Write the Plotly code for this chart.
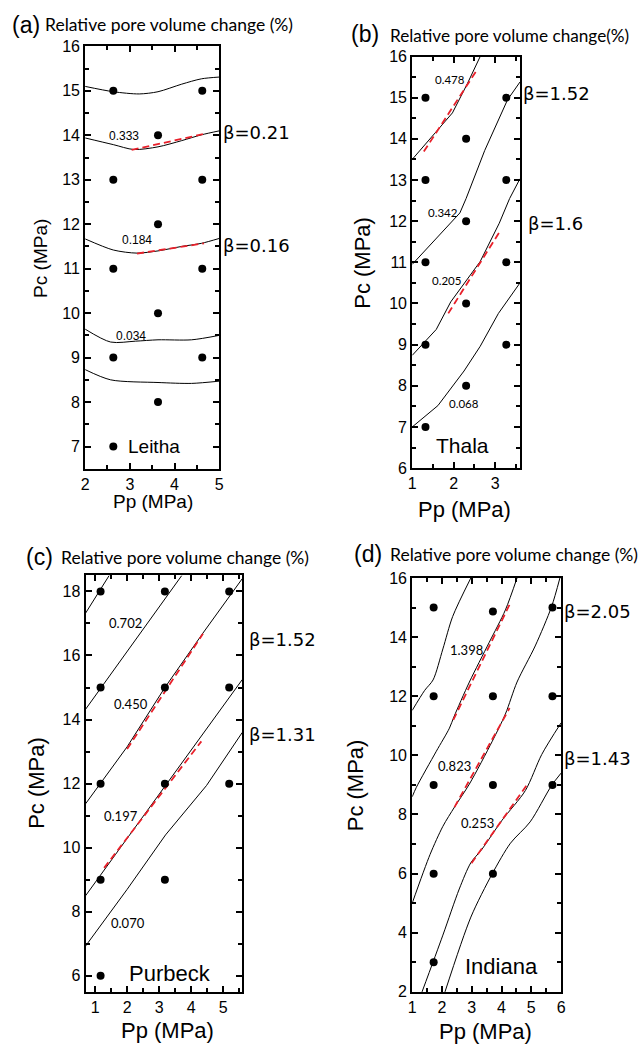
import plotly.graph_objects as go

# ---------------- Panel (a) Leitha ----------------
a_pp = [2.63, 4.62, 3.63, 2.63, 4.62, 3.63, 2.63, 4.62, 3.63, 2.63, 4.62, 3.63, 2.63]
a_pc = [15, 15, 14, 13, 13, 12, 11, 11, 10, 9, 9, 8, 7]
a_c1_x = [2, 2.63, 3.21, 3.63, 4.16, 4.6, 5]
a_c1_y = [15.10, 14.98, 14.93, 14.98, 15.15, 15.27, 15.31]
a_c2_x = [2, 2.63, 3.09, 3.63, 4.16, 4.6, 5]
a_c2_y = [13.94, 13.79, 13.68, 13.74, 13.88, 14.01, 14.10]
a_c3_x = [2, 2.63, 3.16, 3.63, 4.16, 4.6, 5]
a_c3_y = [11.67, 11.42, 11.35, 11.40, 11.50, 11.57, 11.68]
a_c4_x = [2, 2.57, 3.13, 3.63, 4.38, 5]
a_c4_y = [9.64, 9.35, 9.37, 9.40, 9.40, 9.50]
a_c5_x = [2, 2.57, 3.63, 4.38, 5]
a_c5_y = [8.73, 8.50, 8.44, 8.42, 8.47]
a_r1_x = [3.04, 4.66]
a_r1_y = [13.67, 14.03]
a_r2_x = [3.16, 4.66]
a_r2_y = [11.34, 11.57]
a_lab = ["0.333", "0.184", "0.034"]
a_lab_x = [2.86, 3.16, 3.03]
a_lab_y = [13.98, 11.64, 9.49]

# ---------------- Panel (b) Thala ----------------
b_pp = [1.32, 3.27, 2.30, 1.32, 3.27, 2.30, 1.32, 3.27, 2.30, 1.32, 3.27, 2.30, 1.32]
b_pc = [15, 15, 14, 13, 13, 12, 11, 11, 10, 9, 9, 8, 7]
b_c1_x = [1.0, 1.5, 1.97, 2.33, 2.64]
b_c1_y = [13.5, 14.07, 14.63, 15.34, 16.0]
b_c2_x = [1.0, 2.15, 2.3, 2.75, 3.3, 3.6]
b_c2_y = [10.95, 12.2, 12.55, 13.72, 14.95, 15.38]
b_c3_x = [1.0, 1.58, 1.93, 2.25, 2.64, 3.1, 3.35, 3.6]
b_c3_y = [8.74, 9.37, 10.04, 10.48, 11.02, 11.95, 12.55, 13.03]
b_c4_x = [1.0, 1.62, 2.25, 2.64, 3.08, 3.6]
b_c4_y = [7.0, 7.52, 8.36, 8.96, 9.76, 10.5]
b_r1_x = [1.28, 2.56]
b_r1_y = [13.69, 15.67]
b_r2_x = [1.87, 3.12]
b_r2_y = [9.76, 11.76]
b_lab = ["0.478", "0.342", "0.205", "0.068"]
b_lab_x = [1.91, 1.75, 1.83, 2.26]
b_lab_y = [15.43, 12.22, 10.55, 7.58]

# ---------------- Panel (c) Purbeck ----------------
c_pp = [1.17, 3.18, 5.19, 1.17, 3.18, 5.19, 1.17, 3.18, 5.19, 1.17, 3.18, 1.17]
c_pc = [18, 18, 18, 15, 15, 15, 12, 12, 12, 9, 9, 6]
c_c1_x = [0.7, 1.44]
c_c1_y = [17.32, 18.5]
c_c2_x = [0.7, 3.71]
c_c2_y = [14.32, 18.5]
c_c3_x = [0.7, 1.17, 2.0, 3.18, 4.37, 5.6]
c_c3_y = [11.37, 12.0, 13.15, 15.0, 16.7, 18.4]
c_c4_x = [0.7, 5.6]
c_c4_y = [8.5, 15.25]
c_c5_x = [0.7, 2.0, 3.2, 4.48, 5.6]
c_c5_y = [6.93, 8.7, 10.4, 11.94, 13.6]
c_r1_x = [2.0, 4.37]
c_r1_y = [13.08, 16.68]
c_r2_x = [1.28, 4.32]
c_r2_y = [9.37, 13.32]
c_lab = ["0.702", "0.450", "0.197", "0.070"]
c_lab_x = [1.94, 2.12, 1.82, 2.02]
c_lab_y = [17.0, 14.48, 10.98, 7.64]

# ---------------- Panel (d) Indiana ----------------
d_pp = [1.72, 3.71, 5.71, 1.72, 3.71, 5.71, 1.72, 3.71, 5.71, 1.72, 3.71, 1.72]
d_pc = [15, 14.87, 15, 12, 12, 12, 9, 9, 9, 6, 6, 3]
d_c1_x = [1.0, 1.42, 1.7, 2.03, 2.36, 2.97]
d_c1_y = [11.52, 12.2, 12.55, 13.6, 14.7, 16.0]
d_c2_x = [1.0, 1.14, 1.81, 2.25, 2.4, 2.92, 3.58, 4.13, 4.52]
d_c2_y = [8.6, 8.92, 10.14, 10.92, 11.3, 12.48, 13.81, 14.92, 16.0]
d_c3_x = [1.0, 1.6, 2.03, 2.42, 2.92, 3.69, 4.13, 4.52, 5.13, 5.68, 5.96]
d_c3_y = [5.0, 6.65, 7.6, 8.25, 9.03, 10.48, 11.4, 12.48, 13.7, 15.03, 16.0]
d_c4_x = [1.33, 2.03, 2.58, 2.97, 3.33, 4.02, 4.8, 5.35, 6.0]
d_c4_y = [2.0, 3.92, 5.48, 6.37, 6.81, 7.81, 8.81, 10.03, 11.1]
d_c5_x = [2.1, 2.97, 3.69, 4.3, 4.96, 5.68, 6.0]
d_c5_y = [2.0, 4.53, 6.0, 7.03, 7.75, 8.98, 9.4]
d_r1_x = [2.38, 4.27]
d_r1_y = [11.2, 15.1]
d_r2_x = [2.42, 4.27]
d_r2_y = [8.25, 11.6]
d_r3_x = [2.99, 4.85]
d_r3_y = [6.35, 9.0]
d_lab = ["1.398", "0.823", "0.253"]
d_lab_x = [2.82, 2.43, 3.2]
d_lab_y = [13.55, 9.64, 7.7]

panel_letters = ["(a)", "(b)", "(c)", "(d)"]
panel_titles = ["Relative pore volume change (%)", "Relative pore volume change(%)",
                "Relative pore volume change (%)", "Relative pore volume change (%)"]
rock_names = ["Leitha", "Thala", "Purbeck", "Indiana"]
beta_labels = [["β=0.21", "β=0.16"], ["β=1.52", "β=1.6"], ["β=1.52", "β=1.31"], ["β=2.05", "β=1.43"]]
x_title = "Pp (MPa)"
y_title = "Pc (MPa)"

W, H = 644, 1055
ARIAL = "Liberation Sans, Arial, sans-serif"
CALI = "Lato, Noto Sans, sans-serif"
BETA = "DejaVu Sans, sans-serif"

fig = go.Figure()

def px_x(p):
    return p / W

def px_y(p):
    return 1 - p / H

panels = [
    dict(ax="", pp=a_pp, pc=a_pc,
         lines=[(a_c1_x, a_c1_y), (a_c2_x, a_c2_y), (a_c3_x, a_c3_y), (a_c4_x, a_c4_y), (a_c5_x, a_c5_y)],
         reds=[(a_r1_x, a_r1_y), (a_r2_x, a_r2_y)], shape="spline",
         lab=a_lab, lab_x=a_lab_x, lab_y=a_lab_y, lab_font=ARIAL, lab_size=12),
    dict(ax="2", pp=b_pp, pc=b_pc,
         lines=[(b_c1_x, b_c1_y), (b_c2_x, b_c2_y), (b_c3_x, b_c3_y), (b_c4_x, b_c4_y)],
         reds=[(b_r1_x, b_r1_y), (b_r2_x, b_r2_y)], shape="linear",
         lab=b_lab, lab_x=b_lab_x, lab_y=b_lab_y, lab_font=CALI, lab_size=11.5),
    dict(ax="3", pp=c_pp, pc=c_pc,
         lines=[(c_c1_x, c_c1_y), (c_c2_x, c_c2_y), (c_c3_x, c_c3_y), (c_c4_x, c_c4_y), (c_c5_x, c_c5_y)],
         reds=[(c_r1_x, c_r1_y), (c_r2_x, c_r2_y)], shape="linear",
         lab=c_lab, lab_x=c_lab_x, lab_y=c_lab_y, lab_font=CALI, lab_size=13),
    dict(ax="4", pp=d_pp, pc=d_pc,
         lines=[(d_c1_x, d_c1_y), (d_c2_x, d_c2_y), (d_c3_x, d_c3_y), (d_c4_x, d_c4_y), (d_c5_x, d_c5_y)],
         reds=[(d_r1_x, d_r1_y), (d_r2_x, d_r2_y), (d_r3_x, d_r3_y)], shape="spline",
         lab=d_lab, lab_x=d_lab_x, lab_y=d_lab_y, lab_font=CALI, lab_size=13),
]

annotations = []
for p in panels:
    xa, ya = "x" + p["ax"], "y" + p["ax"]
    for lx, ly in p["lines"]:
        fig.add_trace(go.Scatter(x=lx, y=ly, mode="lines", xaxis=xa, yaxis=ya,
                                 line=dict(color="black", width=1, shape=p["shape"], smoothing=0.8),
                                 showlegend=False, hoverinfo="skip"))
    for rx, ry in p["reds"]:
        fig.add_trace(go.Scatter(x=rx, y=ry, mode="lines", xaxis=xa, yaxis=ya,
                                 line=dict(color="#e8202a", width=1.8, dash="7px,4px"),
                                 showlegend=False, hoverinfo="skip"))
    fig.add_trace(go.Scatter(x=p["pp"], y=p["pc"], mode="markers", xaxis=xa, yaxis=ya,
                             marker=dict(color="black", size=8), showlegend=False))
    for t, tx, ty in zip(p["lab"], p["lab_x"], p["lab_y"]):
        annotations.append(dict(text=t, x=tx, y=ty, xref=xa, yref=ya, showarrow=False,
                                font=dict(family=p["lab_font"], size=p["lab_size"], color="black")))

# axes
axis_specs = [
    ("", [82.3, 218.3], [39, 468.3], [2, 5], [6.5, 16], 1, 0.5, 1, 0.5),
    ("2", [414, 523.3], [49.3, 467.7], [1, 3.6], [6, 16], 1, 0.5, 1, 0.5),
    ("3", [82.7, 241.7], [576.7, 1000], [0.7, 5.6], [5.5, 18.5], 1, 0.5, 2, 1),
    ("4", [414, 565], [579.3, 1000], [1, 6], [2, 16], 1, 0.5, 2, 1),
]
layout = dict(width=W, height=H, margin=dict(l=0, r=0, t=0, b=0),
              paper_bgcolor="white", plot_bgcolor="white", showlegend=False)
for ax, xd, yd, xr, yr, xdt, xmin, ydt, ymin in axis_specs:
    common = dict(showline=True, linecolor="black", linewidth=2, mirror="allticks",
                  ticks="inside", ticklen=6, tickwidth=1.5, tickcolor="black",
                  showgrid=False, zeroline=False, tick0=0,
                  tickfont=dict(family=ARIAL, size=16, color="black"))
    layout["xaxis" + ax] = dict(common, domain=[px_x(xd[0]), px_x(xd[1])], range=xr, dtick=xdt,
                                anchor="y" + ax,
                                minor=dict(dtick=xmin, tick0=0, ticks="inside", ticklen=4,
                                           tickwidth=1.5, tickcolor="black"))
    layout["yaxis" + ax] = dict(common, domain=[px_y(yd[1]), px_y(yd[0])], range=yr, dtick=ydt,
                                anchor="x" + ax,
                                minor=dict(dtick=ymin, tick0=0, ticks="inside", ticklen=4,
                                           tickwidth=1.5, tickcolor="black"))

def paper_text(text, x, y, size, family, xanchor="center", angle=0):
    annotations.append(dict(text=text, x=px_x(x), y=px_y(y), xref="paper", yref="paper",
                            showarrow=False, xanchor=xanchor, yanchor="middle", textangle=angle,
                            font=dict(family=family, size=size, color="black")))

# panel letters and titles
letter_pos = [(6, 17), (350, 26), (20, 558), (353, 555)]
title_pos = [(40, 17), (389, 28), (56, 558), (389, 555)]
title_sizes = [17.5, 17.2, 17.5, 17.5]
for L, T, lp, tp, ts in zip(panel_letters, panel_titles, letter_pos, title_pos, title_sizes):
    paper_text(L, lp[0], lp[1], 23, ARIAL, "left")
    paper_text(T, tp[0], tp[1], ts, CALI, "left")

# axis titles
xt_pos = [(150.8, 502, 19), (467.5, 510, 22), (166, 1039, 22), (488.7, 1040, 22)]
yt_pos = [(37.5, 254, 19), (364, 259, 22), (33, 788, 22), (356, 790, 22)]
for (x, y, s) in xt_pos:
    paper_text(x_title, x, y, s, ARIAL)
for (x, y, s) in yt_pos:
    paper_text(y_title, x, y, s, ARIAL, angle=-90)

# beta labels
beta_pos = [[(220, 127), (220, 241)], [(524, 87), (529, 219)],
            [(246, 642), (246, 738)], [(566, 613), (566, 763)]]
for labs, poss in zip(beta_labels, beta_pos):
    for t, (x, y) in zip(labs, poss):
        paper_text(t, x, y, 18, BETA, "left")

# rock names
rock_xy = [(3.55, 7.0, 19), (2.21, 6.56, 21), (3.33, 6.07, 22), (3.99, 2.87, 22)]
for name, ax, (x, y, s) in zip(rock_names, ["", "2", "3", "4"], rock_xy):
    annotations.append(dict(text=name, x=x, y=y, xref="x" + ax, yref="y" + ax, showarrow=False,
                            font=dict(family=ARIAL, size=s, color="black")))

layout["annotations"] = annotations
fig.update_layout(**layout)
fig.write_html("out.html", config={"displayModeBar": False},
               post_script="document.body.style.margin='0px';document.body.style.padding='0px';")
